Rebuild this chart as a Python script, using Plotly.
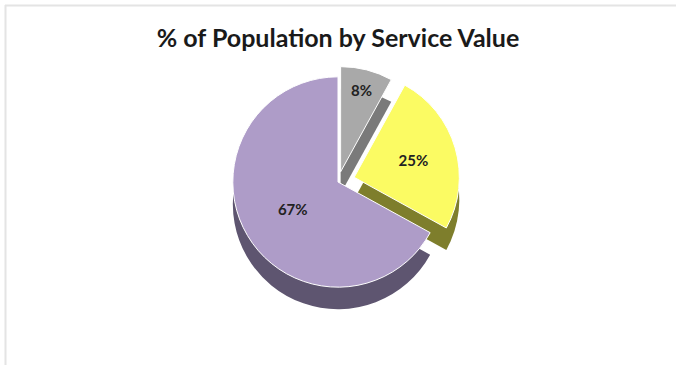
import plotly.graph_objects as go

labels = ["Gray", "Yellow", "Purple"]
values = [8, 25, 67]
top_colors = ["#A9A9A9", "#FBFB63", "#AE9CC8"]
side_colors = ["#7A7A7A", "#7E7E2C", "#5E5570"]
pulls = [0.10, 0.16, 0.0]

W, H = 676, 365
cx = 0.50
cy_top = 1 - 182 / H
r = 122 / H
depth = 22 / H
rx = 122 / W

fig = go.Figure()
# side (depth) layer
fig.add_trace(go.Pie(
    labels=labels, values=values, sort=False, direction="clockwise", rotation=0,
    pull=pulls, marker=dict(colors=side_colors, line=dict(color="white", width=0)),
    textinfo="none", hoverinfo="skip", showlegend=False,
    domain=dict(x=[cx - rx, cx + rx], y=[cy_top - r - depth, cy_top + r - depth]),
))
# top face
fig.add_trace(go.Pie(
    labels=labels, values=values, sort=False, direction="clockwise", rotation=0,
    pull=pulls, marker=dict(colors=top_colors, line=dict(color="white", width=1)),
    texttemplate="<b>%{percent:.0%}</b>", textposition="inside", insidetextorientation="horizontal",
    textfont=dict(family="Lato, Open Sans, sans-serif", size=15, color="#222222"),
    showlegend=False,
    domain=dict(x=[cx - rx, cx + rx], y=[cy_top - r, cy_top + r]),
))

fig.update_layout(
    width=W, height=H,
    margin=dict(l=0, r=0, t=0, b=0),
    paper_bgcolor="white",
    title=dict(text="<b>% of Population by Service Value</b>", x=0.5, xanchor="center",
               y=1 - 38 / H, yanchor="middle",
               font=dict(family="Lato, Open Sans, sans-serif", size=25, color="#1a1a1a")),
    shapes=[
        dict(type="line", xref="paper", yref="paper", x0=5 / W, x1=1, y0=1 - 5.5 / H, y1=1 - 5.5 / H,
             line=dict(color="#E4E4E4", width=2)),
        dict(type="line", xref="paper", yref="paper", x0=5.5 / W, x1=5.5 / W, y0=0, y1=1 - 5 / H,
             line=dict(color="#E4E4E4", width=2)),
    ],
)

fig.write_html("out.html")
